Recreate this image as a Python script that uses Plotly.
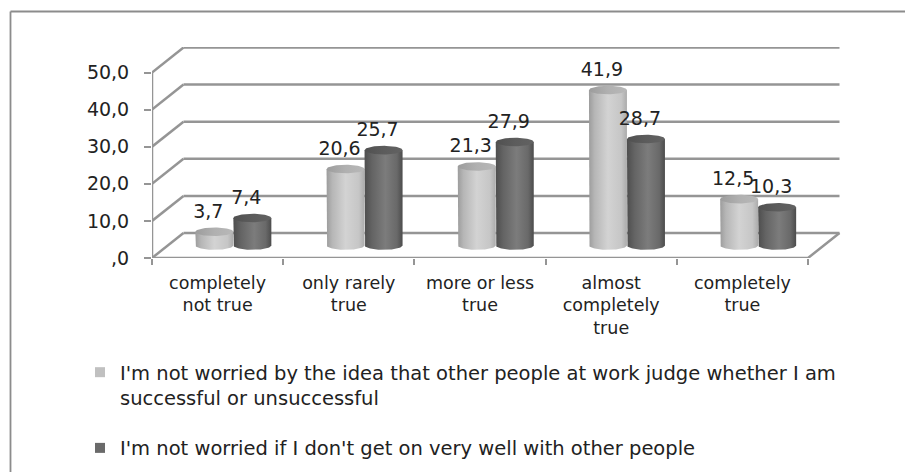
import numpy as np
import plotly.graph_objects as go

# ---- data -------------------------------------------------------------
categories = [
    "completely<br>not true",
    "only rarely<br>true",
    "more or less<br>true",
    "almost<br>completely<br>true",
    "completely<br>true",
]
series_names = [
    "I'm not worried by the idea that other people at work judge whether I am<br>successful or unsuccessful",
    "I'm not worried if I don't get on very well with other people",
]
values_judged = [3.7, 20.6, 21.3, 41.9, 12.5]
values_get_on = [7.4, 25.7, 27.9, 28.7, 10.3]
y_ticks = [0, 10, 20, 30, 40, 50]

# ---- layout geometry (pixels) ----------------------------------------
W, H = 905, 472
M_L, M_R, M_T, M_B = 152, 64, 47, 214
PX_CAT = 131.2          # pixels per category on the front axis
PX_UNIT = 3.71          # pixels per value unit
plot_w = W - M_L - M_R
plot_h = H - M_T - M_B
x_range = [-0.5, -0.5 + plot_w / PX_CAT]
y_range = [0, plot_h / PX_UNIT]

DX = 31.5 / PX_CAT      # depth offset of the back wall (x)
DY = 25.0 / PX_UNIT     # depth offset of the back wall (y)
CYL_W = 38.0 / PX_CAT   # cylinder diameter
CAP_B = 4.3 / PX_UNIT   # half height of the elliptical caps

FRAME = "#959595"
TEXT = "#222222"
FONT = "DejaVu Sans"

light_body = [[0, "#9c9c9c"], [0.15, "#b6b6b6"], [0.5, "#d3d3d3"], [0.85, "#c6c6c6"], [1, "#ababab"]]
light_cap = [[0, "#9c9c9c"], [0.5, "#b0b0b0"], [1, "#b8b8b8"]]
dark_body = [[0, "#4e4e4e"], [0.2, "#646464"], [0.55, "#7c7c7c"], [0.85, "#696969"], [1, "#4c4c4c"]]
dark_cap = [[0, "#505050"], [0.5, "#5c5c5c"], [1, "#626262"]]
series_styles = [
    dict(body=light_body, cap=light_cap, swatch="#c0c0c0"),
    dict(body=dark_body, cap=dark_cap, swatch="#6a6a6a"),
]

fig = go.Figure()

# ---- 3-D frame: back wall grid, side wall, floor ----------------------
fx, fy = [], []
x0, x1 = -0.5, 4.5
for v in y_ticks:
    # back wall gridline
    fx += [x0 + DX, x1 + DX, None]
    fy += [v + DY, v + DY, None]
    # side wall diagonal
    fx += [x0, x0 + DX, None]
    fy += [v, v + DY, None]
# front value axis
fx += [x0, x0, None]
fy += [0, y_ticks[-1], None]
# floor front and right edges
fx += [x0, x1, x1 + DX, None]
fy += [0, 0, DY, None]
fig.add_trace(go.Scatter(x=fx, y=fy, mode="lines", line=dict(color=FRAME, width=2.5),
                         hoverinfo="skip", showlegend=False))

# ---- cylinders --------------------------------------------------------
t_half = np.linspace(0, np.pi, 40)
t_full = np.linspace(0, 2 * np.pi, 80)
a = CYL_W / 2
base = DY / 2
all_series = [values_judged, values_get_on]

for i in range(len(categories)):
    for s, vals in enumerate(all_series):
        cx = i + DX / 2 + (s - 0.5) * CYL_W
        top = base + vals[i]
        style = series_styles[s]
        bx = np.concatenate([[cx - a], cx - a * np.cos(t_half), [cx + a, cx - a]])
        by = np.concatenate([[top], base - CAP_B * np.sin(t_half), [top, top]])
        fig.add_trace(go.Scatter(
            x=bx, y=by, mode="lines", fill="toself", line=dict(width=0),
            fillgradient=dict(type="horizontal", colorscale=style["body"]),
            legendgroup=f"s{s}", showlegend=False, hoverinfo="skip"))
        fig.add_trace(go.Scatter(
            x=cx + a * np.cos(t_full), y=top + CAP_B * np.sin(t_full),
            mode="lines", fill="toself", line=dict(width=0),
            fillgradient=dict(type="horizontal", colorscale=style["cap"]),
            legendgroup=f"s{s}", showlegend=False, hoverinfo="skip"))

# ---- value labels -----------------------------------------------------
for s, vals in enumerate(all_series):
    lx = [i + DX / 2 + (s - 0.5) * CYL_W - 6 / PX_CAT for i in range(len(categories))]
    ly = [base + v + 19 / PX_UNIT for v in vals]
    fig.add_trace(go.Scatter(
        x=lx, y=ly, mode="text", customdata=vals, texttemplate="%{customdata:.1f}",
        textposition="middle center", textfont=dict(family=FONT, size=19, color=TEXT),
        legendgroup=f"s{s}", showlegend=False, hoverinfo="skip"))

# ---- legend entries ---------------------------------------------------
for s, name in enumerate(series_names):
    fig.add_trace(go.Scatter(
        x=[None], y=[None], mode="markers", name=name, legendgroup=f"s{s}",
        marker=dict(symbol="square", size=10, color=series_styles[s]["swatch"])))

# ---- outer chart border (top and left edges, running off the page) ---
def px_to_paper_x(px):
    return (px - M_L) / plot_w

def px_to_paper_y(py):
    return (H - M_B - py) / plot_h

border = dict(color="#8c8c8c", width=1.8)
fig.add_shape(type="line", xref="paper", yref="paper",
              x0=px_to_paper_x(10.5), x1=px_to_paper_x(W),
              y0=px_to_paper_y(11.5), y1=px_to_paper_y(11.5), line=border)
fig.add_shape(type="line", xref="paper", yref="paper",
              x0=px_to_paper_x(10.5), x1=px_to_paper_x(10.5),
              y0=px_to_paper_y(11.5), y1=px_to_paper_y(H), line=border)

y_text = []
for v in y_ticks:
    txt = f"{v:.1f}".replace(".", ",")
    y_text.append(txt[1:] if v == 0 else txt)

fig.update_layout(
    width=W, height=H,
    margin=dict(l=M_L, r=M_R, t=M_T, b=M_B, autoexpand=False),
    paper_bgcolor="white", plot_bgcolor="white",
    separators=", ",
    font=dict(family=FONT, color=TEXT),
    xaxis=dict(
        range=x_range, showgrid=False, zeroline=False, showline=False,
        tickmode="array", tickvals=list(range(len(categories))), ticktext=categories,
        ticks="", tickfont=dict(size=17.5, color=TEXT), ticklabelstandoff=12,
        minor=dict(tickvals=[i - 0.5 for i in range(len(categories) + 1)], ticks="outside",
                   ticklen=6, tickwidth=2, tickcolor=FRAME, showgrid=False),
        fixedrange=True,
    ),
    yaxis=dict(
        range=y_range, showgrid=False, zeroline=False, showline=False,
        tickmode="array", tickvals=y_ticks, ticktext=y_text,
        ticks="outside", ticklen=7, tickwidth=2, tickcolor=FRAME,
        tickfont=dict(size=19, color=TEXT), ticklabelstandoff=11,
        fixedrange=True,
    ),
    legend=dict(
        x=px_to_paper_x(80), xanchor="left", y=px_to_paper_y(353), yanchor="top",
        font=dict(family=FONT, size=19.5, color=TEXT), valign="top",
        traceorder="grouped", tracegroupgap=22, bgcolor="rgba(0,0,0,0)",
    ),
    showlegend=True,
)

fig.write_html("out.html")
